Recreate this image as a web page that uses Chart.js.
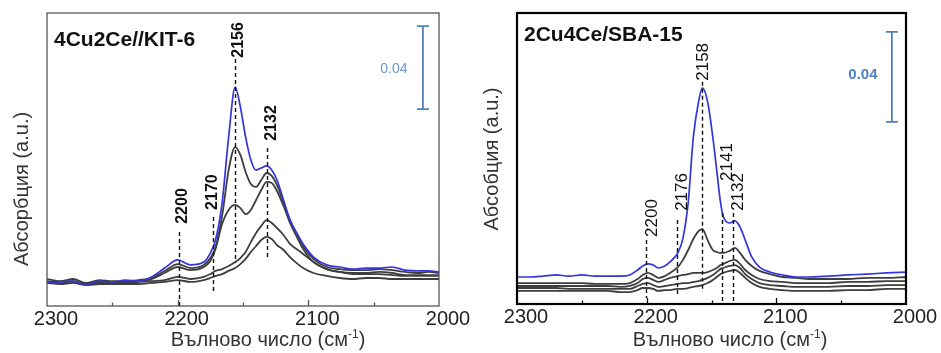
<!DOCTYPE html>
<html><head><meta charset="utf-8">
<script src="https://cdn.jsdelivr.net/npm/chart.js@4.4.1/dist/chart.umd.min.js"></script>
<style>
html,body{margin:0;padding:0;background:#fff;}
#wrap{position:relative;width:941px;height:353px;overflow:hidden;}
canvas{position:absolute;top:0;}
</style></head><body>
<div id="wrap"><canvas id="cL" width="470" height="353" style="left:0"></canvas><canvas id="cR" width="471" height="353" style="left:470px"></canvas></div>
<script>
// ---------- data (wavenumber, cm-1 ; absorbance) ----------
const xTickValues = [2300, 2200, 2100, 2000];
const xMinorTicks = [2250, 2200, 2150, 2100, 2050];

// Left panel: 4Cu2Ce//KIT-6
const wnLeft = [2300,2290,2280,2270,2260,2250,2240,2230,2220,2210,2200,2190,2180,2175,2171,2166,2161,2156,2152,2148,2144,2140,2136,2132,2128,2124,2119,2114,2108,2104,2096,2086,2076,2066,2056,2046,2036,2026,2016,2008,2000];
const leftBlue  = [.0111,.0116,.0120,.0101,.0120,.0116,.0125,.0120,.0140,.0183,.0222,.0198,.0212,.0255,.0318,.0496,.0814,.1055,.0959,.0814,.0704,.0655,.0665,.0675,.0655,.0607,.0511,.0414,.0342,.0299,.0236,.0198,.0188,.0178,.0183,.0183,.0188,.0173,.0169,.0169,.0164];
const leftGray1 = [.0130,.0120,.0130,.0111,.0125,.0120,.0120,.0125,.0135,.0169,.0202,.0183,.0198,.0231,.0284,.0434,.0655,.0766,.0728,.0646,.0588,.0574,.0607,.0641,.0627,.0583,.0501,.0414,.0337,.0289,.0227,.0188,.0178,.0173,.0173,.0178,.0173,.0164,.0159,.0164,.0159];
const leftGray2 = [.0120,.0111,.0116,.0106,.0116,.0116,.0116,.0120,.0130,.0159,.0188,.0173,.0188,.0217,.0275,.0395,.0463,.0487,.0472,.0443,.0463,.0511,.0559,.0598,.0593,.0554,.0482,.0400,.0323,.0275,.0212,.0178,.0164,.0159,.0159,.0164,.0159,.0149,.0149,.0149,.0149];
const leftGray3 = [.0116,.0116,.0120,.0106,.0111,.0116,.0111,.0116,.0120,.0125,.0140,.0130,.0140,.0154,.0169,.0178,.0193,.0212,.0231,.0260,.0308,.0352,.0386,.0414,.0400,.0376,.0342,.0299,.0270,.0251,.0212,.0178,.0164,.0154,.0154,.0154,.0149,.0145,.0145,.0145,.0145];
const leftGray4 = [.0111,.0106,.0111,.0101,.0106,.0106,.0106,.0106,.0111,.0116,.0125,.0116,.0125,.0135,.0145,.0154,.0169,.0183,.0202,.0227,.0260,.0289,.0318,.0333,.0323,.0294,.0270,.0236,.0202,.0183,.0159,.0145,.0135,.0130,.0135,.0135,.0130,.0130,.0130,.0130,.0130];
const leftPeakWn     = [2199, 2173, 2156, 2132];
const leftPeakTop    = [0.0357, 0.0429, 0.1190, 0.0761];
const leftPeakBottom = [0, 0.0067, 0.0207, 0.0231];
const leftPeakLabels = ['2200', '2170', '2156', '2132'];
const leftLabelWn    = [2196, 2173.6, 2153, 2128];
const leftLabelY     = [0.0482, 0.0549, 0.1282, 0.0882];
const leftBar = [2012.3, 0.0949, 0.1349];   // wn, low, high (0.04)
const leftBarLabel = [2034.5, 0.1142];

// Right panel: 2Cu4Ce/SBA-15
const wnRight = [2300,2290,2280,2270,2260,2250,2240,2230,2220,2213,2207,2203,2199,2195,2191,2186,2182,2176,2172,2168,2164,2160,2157,2153,2149,2146,2143,2141,2136,2132,2128,2124,2119,2113,2105,2095,2085,2075,2060,2045,2030,2015,2000];
const rightBlue  = [.0120,.0120,.0124,.0129,.0124,.0129,.0124,.0124,.0124,.0129,.0151,.0169,.0178,.0173,.0160,.0169,.0187,.0227,.0293,.0449,.0742,.0898,.0960,.0898,.0742,.0596,.0449,.0391,.0360,.0369,.0342,.0284,.0209,.0164,.0142,.0129,.0120,.0120,.0124,.0129,.0133,.0138,.0142];
const rightGray1 = [.0093,.0093,.0093,.0093,.0093,.0093,.0089,.0089,.0089,.0093,.0111,.0129,.0138,.0129,.0116,.0124,.0138,.0164,.0196,.0240,.0289,.0324,.0333,.0284,.0240,.0231,.0227,.0227,.0236,.0249,.0227,.0196,.0169,.0147,.0133,.0120,.0116,.0111,.0111,.0111,.0116,.0116,.0120];
const rightGray2 = [.0080,.0080,.0080,.0080,.0080,.0080,.0080,.0080,.0076,.0080,.0093,.0111,.0116,.0107,.0098,.0107,.0116,.0124,.0129,.0133,.0138,.0138,.0138,.0142,.0151,.0160,.0173,.0178,.0191,.0196,.0178,.0151,.0129,.0111,.0102,.0098,.0093,.0093,.0093,.0098,.0098,.0102,.0102];
const rightGray3 = [.0071,.0071,.0071,.0071,.0067,.0067,.0067,.0067,.0067,.0067,.0080,.0089,.0093,.0084,.0076,.0080,.0084,.0089,.0093,.0093,.0098,.0102,.0107,.0116,.0129,.0142,.0156,.0160,.0169,.0173,.0160,.0133,.0111,.0093,.0084,.0080,.0076,.0076,.0076,.0080,.0080,.0084,.0084];
const rightGray4 = [.0058,.0058,.0058,.0058,.0058,.0058,.0058,.0058,.0053,.0053,.0062,.0071,.0071,.0067,.0058,.0062,.0062,.0067,.0067,.0071,.0076,.0080,.0084,.0093,.0107,.0120,.0133,.0138,.0147,.0151,.0138,.0116,.0093,.0076,.0067,.0062,.0058,.0058,.0058,.0062,.0062,.0067,.0067];
const rightPeakWn     = [2200.8, 2176.6, 2157.6, 2141.9, 2133.5];
const rightPeakTop    = [0.0284, 0.0373, 0.0987, 0.0404, 0.0404];
const rightPeakBottom = [0.0027, 0.0031, 0.0053, 0.0009, 0.0009];
const rightPeakLabels = ['2200', '2176', '2158', '2141', '2132'];
const rightLabelWn    = [2195.9, 2172.8, 2156.6, 2138, 2129.6];
const rightLabelY     = [0.0382, 0.0498, 0.1076, 0.0631, 0.0498];
const rightBar = [2010.9, 0.0809, 0.1209];
const rightBarLabel = [2033.2, 0.1018];

// ---------- rendering ----------
const FONT = "'Liberation Sans', Arial, Helvetica, sans-serif";
const BLUE = '#3535dc';
const GRAY = '#3e3e3e';

function pts(xs, ys) { return xs.map((x, i) => ({x, y: ys[i]})); }

function decorPlugin(c) {
  return {
    id: 'decor',
    afterDatasetsDraw(chart) {
      const ctx = chart.ctx, a = chart.chartArea, x = chart.scales.x, y = chart.scales.y;
      ctx.save();
      // dashed peak lines
      ctx.strokeStyle = '#111'; ctx.lineWidth = 1.4; ctx.setLineDash([4, 3]);
      c.peakWn.forEach((w, i) => {
        const px = Math.round(x.getPixelForValue(w)) + 0.5;
        ctx.beginPath();
        ctx.moveTo(px, y.getPixelForValue(c.peakTop[i]));
        ctx.lineTo(px, y.getPixelForValue(c.peakBottom[i]));
        ctx.stroke();
      });
      ctx.setLineDash([]);
      // peak labels
      ctx.fillStyle = '#111'; ctx.font = c.peakFont;
      ctx.textAlign = 'center'; ctx.textBaseline = 'middle';
      c.labels.forEach((t, i) => {
        ctx.save();
        ctx.translate(x.getPixelForValue(c.labelWn[i]), y.getPixelForValue(c.labelY[i]));
        ctx.rotate(-Math.PI / 2);
        ctx.fillText(t, 0, 0);
        ctx.restore();
      });
      // scale bar
      const bx = x.getPixelForValue(c.bar[0]);
      const by1 = y.getPixelForValue(c.bar[1]), by2 = y.getPixelForValue(c.bar[2]);
      ctx.strokeStyle = '#4f81bd'; ctx.lineWidth = 1.8;
      ctx.beginPath();
      ctx.moveTo(bx, by1); ctx.lineTo(bx, by2);
      ctx.moveTo(bx - 6, by1); ctx.lineTo(bx + 6, by1);
      ctx.moveTo(bx - 6, by2); ctx.lineTo(bx + 6, by2);
      ctx.stroke();
      ctx.fillStyle = c.barLabelColor; ctx.font = c.barFont;
      ctx.fillText('0.04', x.getPixelForValue(c.barLabel[0]), y.getPixelForValue(c.barLabel[1]));
      // frame
      ctx.strokeStyle = c.boxColor; ctx.lineWidth = c.boxWidth;
      ctx.strokeRect(a.left, a.top, a.right - a.left, a.bottom - a.top);
      // inner tick marks
      ctx.lineWidth = 1.3;
      xMinorTicks.forEach(v => {
        const px = Math.round(x.getPixelForValue(v)) + 0.5;
        const len = v % 100 === 0 ? 6 : 3.5;
        ctx.beginPath(); ctx.moveTo(px, a.bottom); ctx.lineTo(px, a.bottom - len); ctx.stroke();
      });
      // panel title
      ctx.fillStyle = '#111'; ctx.font = 'bold 21px ' + FONT;
      ctx.textAlign = 'left'; ctx.textBaseline = 'middle';
      ctx.fillText(c.title, c.titleX, c.titleY);
      // y title
      ctx.fillStyle = '#333'; ctx.font = '20px ' + FONT; ctx.textAlign = 'center';
      ctx.save(); ctx.translate(c.yTitleX, c.yTitleY); ctx.rotate(-Math.PI / 2);
      ctx.fillText(c.yTitle, 0, 0); ctx.restore();
      // x title with superscript
      const t1 = 'Вълново число (см', t2 = '-1', t3 = ')';
      ctx.font = '20px ' + FONT; const w1 = ctx.measureText(t1).width, w3 = ctx.measureText(t3).width;
      ctx.font = '12px ' + FONT; const w2 = ctx.measureText(t2).width;
      let sx = c.xTitleX - (w1 + w2 + w3) / 2;
      ctx.textAlign = 'left'; ctx.textBaseline = 'alphabetic';
      ctx.font = '20px ' + FONT; ctx.fillText(t1, sx, 346);
      ctx.font = '12px ' + FONT; ctx.fillText(t2, sx + w1, 338);
      ctx.font = '20px ' + FONT; ctx.fillText(t3, sx + w1 + w2, 346);
      ctx.restore();
    }
  };
}

function makeChart(id, wn, series, ymax, pad, axisH, deco) {
  const datasets = series.map((s, i) => ({
    data: pts(wn, s),
    borderColor: i === 0 ? BLUE : GRAY,
    borderWidth: i === 0 ? 1.7 : 1.8,
    pointRadius: 0,
    fill: false,
    cubicInterpolationMode: 'monotone'
  }));
  return new Chart(document.getElementById(id), {
    type: 'line',
    data: {datasets},
    options: {
      responsive: false, animation: false, devicePixelRatio: 1,
      layout: {padding: pad},
      plugins: {legend: {display: false}, tooltip: {enabled: false}},
      scales: {
        x: {
          type: 'linear', reverse: true, min: 2000, max: 2300,
          grid: {display: false, drawTicks: false}, border: {display: false},
          afterBuildTicks: s => { s.ticks = xTickValues.map(v => ({value: v})); },
          afterFit: s => { s.height = axisH; },
          ticks: {
            autoSkip: false, maxRotation: 0, padding: 1, labelOffset: 9,
            color: '#222', font: {family: FONT, size: 20},
            callback: v => String(v)
          }
        },
        y: {display: false, min: 0, max: ymax}
      }
    },
    plugins: [decorPlugin(deco)]
  });
}

makeChart('cL', wnLeft, [leftBlue, leftGray1, leftGray2, leftGray3, leftGray4], 0.1412,
  {left: 47, right: 31, top: 13, bottom: 0}, 47, {
    peakWn: leftPeakWn, peakTop: leftPeakTop, peakBottom: leftPeakBottom,
    labels: leftPeakLabels, labelWn: leftLabelWn, labelY: leftLabelY,
    peakFont: 'bold 16px ' + FONT,
    bar: leftBar, barLabel: leftBarLabel, barLabelColor: '#6b98d0', barFont: '14px ' + FONT,
    boxColor: '#555', boxWidth: 1.3,
    title: '4Cu2Ce//KIT-6', titleX: 54, titleY: 40,
    yTitle: 'Абсорбция (a.u.)', yTitleX: 22, yTitleY: 189,
    xTitleX: 268
  });

makeChart('cR', wnRight, [rightBlue, rightGray1, rightGray2, rightGray3, rightGray4], 0.1293,
  {left: 47, right: 35, top: 13, bottom: 0}, 49, {
    peakWn: rightPeakWn, peakTop: rightPeakTop, peakBottom: rightPeakBottom,
    labels: rightPeakLabels, labelWn: rightLabelWn, labelY: rightLabelY,
    peakFont: '17px ' + FONT,
    bar: rightBar, barLabel: rightBarLabel, barLabelColor: '#4f81bd', barFont: 'bold 15px ' + FONT,
    boxColor: '#000', boxWidth: 2.2,
    title: '2Cu4Ce/SBA-15', titleX: 54, titleY: 35,
    yTitle: 'Абсобция (a.u.)', yTitleX: 22, yTitleY: 159,
    xTitleX: 260
  });
</script>
</body></html>
